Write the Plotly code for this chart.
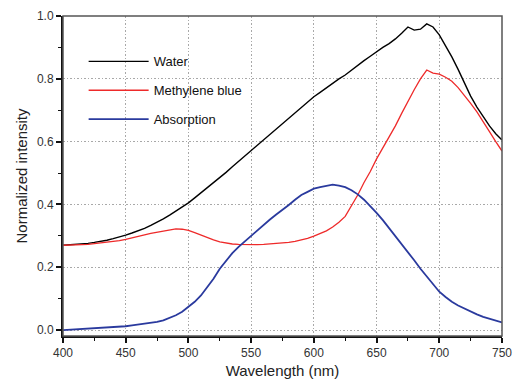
import plotly.graph_objects as go

wavelength = list(range(400, 751, 5))

water = [0.270, 0.271, 0.272, 0.274, 0.276, 0.279, 0.282, 0.286, 0.291, 0.296,
         0.302, 0.309, 0.316, 0.324, 0.333, 0.343, 0.354, 0.366, 0.379, 0.392,
         0.405, 0.421, 0.437, 0.452, 0.468, 0.485, 0.502, 0.520, 0.537, 0.554,
         0.571, 0.588, 0.605, 0.622, 0.640, 0.657, 0.675, 0.692, 0.710, 0.727,
         0.743, 0.757, 0.772, 0.786, 0.800, 0.812, 0.828, 0.843, 0.858, 0.872,
         0.887, 0.900, 0.912, 0.927, 0.945, 0.965, 0.955, 0.958, 0.975, 0.965,
         0.940, 0.905, 0.870, 0.830, 0.787, 0.745, 0.710, 0.680, 0.650, 0.625,
         0.605]

methylene_blue = [0.270, 0.270, 0.271, 0.272, 0.273, 0.275, 0.277, 0.279, 0.282, 0.285,
                  0.289, 0.293, 0.298, 0.303, 0.308, 0.312, 0.316, 0.320, 0.322, 0.321,
                  0.317, 0.310, 0.302, 0.294, 0.287, 0.281, 0.277, 0.274, 0.273, 0.272,
                  0.272, 0.272, 0.273, 0.274, 0.275, 0.277, 0.279, 0.282, 0.286, 0.292,
                  0.299, 0.307, 0.316, 0.328, 0.343, 0.362, 0.395, 0.430, 0.470, 0.505,
                  0.545, 0.580, 0.615, 0.650, 0.690, 0.730, 0.765, 0.800, 0.828, 0.818,
                  0.815, 0.805, 0.792, 0.772, 0.748, 0.722, 0.695, 0.665, 0.632, 0.600,
                  0.570]

absorption = [0.000, 0.001, 0.002, 0.003, 0.004, 0.005, 0.006, 0.007, 0.008, 0.010,
              0.012, 0.015, 0.018, 0.020, 0.022, 0.026, 0.031, 0.038, 0.047, 0.058,
              0.073, 0.090, 0.110, 0.135, 0.163, 0.195, 0.222, 0.245, 0.265, 0.283,
              0.300, 0.318, 0.335, 0.352, 0.368, 0.382, 0.398, 0.415, 0.430, 0.440,
              0.450, 0.455, 0.460, 0.463, 0.460, 0.455, 0.445, 0.432, 0.415, 0.395,
              0.373, 0.350, 0.325, 0.300, 0.275, 0.250, 0.222, 0.195, 0.170, 0.145,
              0.122, 0.105, 0.090, 0.078, 0.068, 0.058, 0.050, 0.042, 0.036, 0.030,
              0.024]

x_ticks = [400, 450, 500, 550, 600, 650, 700, 750]
y_ticks = [0.0, 0.2, 0.4, 0.6, 0.8, 1.0]

font_family = "Liberation Sans, Arial, sans-serif"

fig = go.Figure()
fig.add_trace(go.Scatter(x=wavelength, y=water, mode="lines", name="Water",
                         line=dict(color="#000000", width=1.4), legendgroup="a"))
fig.add_trace(go.Scatter(x=wavelength, y=methylene_blue, mode="lines", name="Methylene blue",
                         line=dict(color="#ee2a2a", width=1.3), legendgroup="b"))
fig.add_trace(go.Scatter(x=wavelength, y=absorption, mode="lines", name="Absorption",
                         line=dict(color="#2a3a9e", width=1.8), legendgroup="c"))

grid_style = dict(showgrid=True, gridcolor="#a8a8a8", griddash="1.5px,2px", gridwidth=1)

fig.update_layout(
    width=513, height=382,
    margin=dict(l=63, r=11, t=16, b=46),
    paper_bgcolor="white", plot_bgcolor="white",
    font=dict(family=font_family, color="#222222", size=12),
    showlegend=True,
    legend=dict(x=0.047, y=0.905, xanchor="left", yanchor="top",
                bgcolor="rgba(0,0,0,0)", font=dict(size=13, color="#111111"),
                tracegroupgap=9, traceorder="grouped", itemwidth=60),
    xaxis=dict(range=[400, 750], tickvals=x_ticks, ticks="outside", ticklen=5, tickwidth=1.5,
               tickcolor="#111", showline=True, linecolor="#111", linewidth=2,
               zeroline=False, ticklabeloverflow="allow", automargin=False,
               minor=dict(dtick=25, tick0=400, ticks="outside", ticklen=3, tickwidth=1.2,
                          tickcolor="#111", showgrid=False),
               title=dict(text="Wavelength (nm)", font=dict(size=15, color="#222"), standoff=6),
               tickfont=dict(size=12, color="#333"), **grid_style),
    yaxis=dict(range=[-0.019, 1.0], tickvals=y_ticks, tickformat=".1f", ticks="outside",
               ticklen=5, tickwidth=1.5, tickcolor="#111", showline=True, linecolor="#111",
               linewidth=2, zeroline=False, automargin=False,
               minor=dict(dtick=0.1, tick0=0, ticks="outside", ticklen=3, tickwidth=1.2,
                          tickcolor="#111", showgrid=False),
               title=dict(text="Normalized intensity", font=dict(size=15, color="#222"), standoff=6),
               tickfont=dict(size=12, color="#333"), **grid_style),
    shapes=[dict(type="rect", xref="paper", yref="paper", x0=0, x1=1, y0=0, y1=1,
                 line=dict(color="#555555", width=1.5), layer="above")],
)

fig.write_html("out.html")
